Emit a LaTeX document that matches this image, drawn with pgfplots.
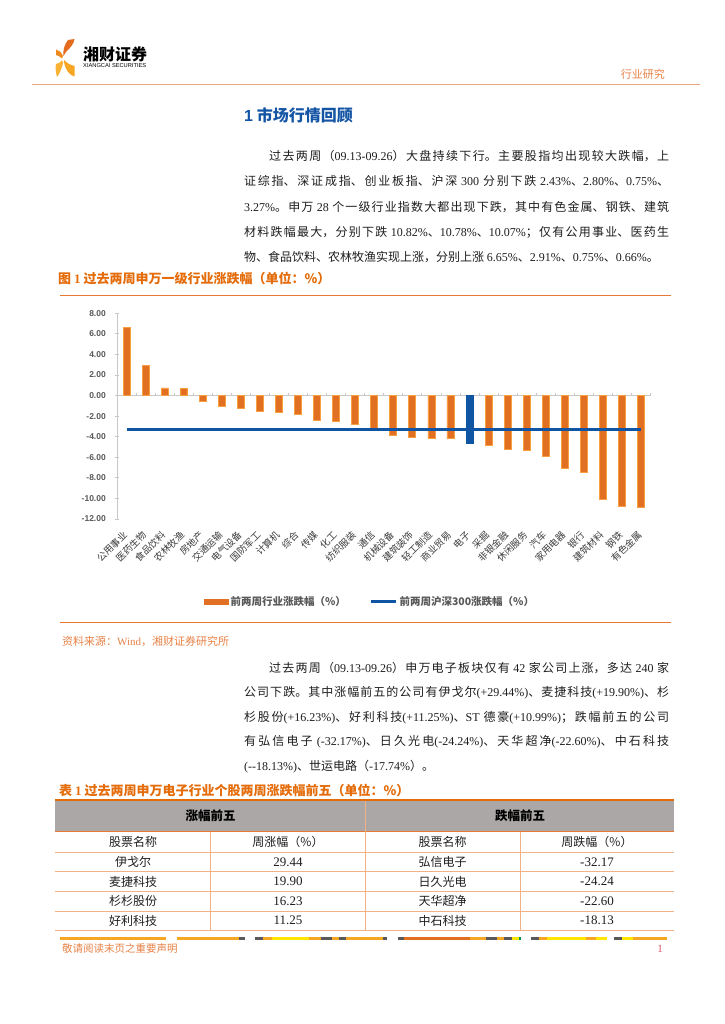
\documentclass[border=0pt]{standalone}
\usepackage{pgfplots}
\pgfplotsset{compat=1.18}
\usepackage{fontspec}
\setmainfont{Noto Sans CJK SC}
\newfontfamily\tnr{Liberation Serif}
\newfontfamily\lsans{Liberation Sans}
\XeTeXlinebreaklocale "zh"
\XeTeXlinebreakskip=0pt plus 2pt
\definecolor{barorange}{RGB}{226,112,34}
\definecolor{baredge}{RGB}{248,160,64}
\definecolor{hsblue}{RGB}{16,84,164}
\definecolor{axisgray}{RGB}{200,200,200}
\definecolor{tickgray}{RGB}{89,89,89}
\definecolor{labelcol}{RGB}{60,60,60}
\definecolor{capor}{RGB}{228,108,10}
\definecolor{lineor}{RGB}{233,120,50}
\definecolor{hdrline}{RGB}{235,165,125}
\definecolor{srcor}{RGB}{232,130,70}
\definecolor{titleblue}{RGB}{20,85,165}
\definecolor{tblgray}{RGB}{170,167,166}
\definecolor{tblline}{RGB}{244,177,131}
\definecolor{bodytext}{RGB}{30,30,30}
\definecolor{logoA}{RGB}{227,108,30}
\definecolor{logoB}{RGB}{240,138,28}
\definecolor{logoC}{RGB}{246,166,35}
\definecolor{logoD}{RGB}{249,178,51}
\definecolor{fog}{RGB}{245,166,35}
\definecolor{fgy}{RGB}{89,89,89}
\definecolor{fyl}{RGB}{255,230,0}
\definecolor{fdo}{RGB}{224,112,32}
\definecolor{fgr}{RGB}{0,150,80}
\begin{document}
\begin{tikzpicture}
\fill[white] (0pt,0pt) rectangle (724pt,1024pt);
\begin{scope}[x=1pt,y=-1pt,shift={(0pt,1024pt)}]
% ---------- logo ----------
\fill[logoA] (68,40) .. controls (71,39.5) .. (74.5,39) .. controls (74,44) and (70,48) .. (66,52) .. controls (64.5,53.5) .. (63.5,56) .. controls (62.8,51) and (64,45) .. (68,40) -- cycle;
\fill[logoB] (56,49.5) .. controls (59,50) and (61.5,52.5) .. (63,56) -- (62,58.5) .. controls (60,56.5) and (58,55.5) .. (56,55) -- cycle;
\fill[logoC] (64,60) .. controls (67,63) and (70,65) .. (74.5,66) -- (74.5,76.5) .. controls (69,75) and (65.5,70) .. (64,62) -- cycle;
\fill[logoD] (62,60.5) -- (63.2,62.5) .. controls (62,68) and (60,73) .. (57,77) .. controls (55.5,72) and (55.5,67) .. (56,64) .. controls (58.5,63.5) and (60.5,62.5) .. (62,60.5) -- cycle;
\node[anchor=west, inner sep=0pt, font=\bfseries\fontsize{16}{16}\selectfont] at (83,54) {湘财证券};
\node[anchor=west, inner sep=0pt, font=\lsans\fontsize{5.7}{6}\selectfont] at (83,66) {XIANGCAI SECURITIES};
\node[anchor=east, inner sep=0pt, text=srcor, font=\fontsize{11}{12}\selectfont] at (665,74.5) {行业研究};
\draw[hdrline, line width=1.5pt] (32,84.5) -- (700,84.5);
% ---------- title ----------
\node[anchor=west, inner sep=0pt, text=titleblue, font=\bfseries\fontsize{16}{17}\selectfont] at (244,115) {{\lsans 1} 市场行情回顾};
% ---------- paragraph 1 ----------
\node[anchor=base west, inner sep=0pt, text width=425pt, align=justify, text=bodytext, font=\fontsize{12}{25.4}\selectfont] at (244,160.3) {\hspace*{25pt}过去两周（{\tnr 09.13-09.26}）大盘持续下行。主要股指均出现较大跌幅，上\linebreak
证综指、深证成指、创业板指、沪深 {\tnr 300} 分别下跌 {\tnr 2.43\%}、{\tnr 2.80\%}、{\tnr 0.75\%}、\linebreak
{\tnr 3.27\%}。申万 {\tnr 28} 个一级行业指数大都出现下跌，其中有色金属、钢铁、建筑\linebreak
材料跌幅最大，分别下跌 {\tnr 10.82\%}、{\tnr 10.78\%}、{\tnr 10.07\%}；仅有公用事业、医药生\linebreak
物、食品饮料、农林牧渔实现上涨，分别上涨 {\tnr 6.65\%}、{\tnr 2.91\%}、{\tnr 0.75\%}、{\tnr 0.66\%}。};
% ---------- figure caption ----------
\node[anchor=west, inner sep=0pt, text=capor, font=\bfseries\fontsize{13}{14}\selectfont] at (58,278.5) {图 {\tnr\bfseries 1} 过去两周申万一级行业涨跌幅（单位：\%）};
\draw[lineor, line width=1.3pt] (60,295.3) -- (671,295.3);
% ---------- source ----------
\draw[lineor, line width=1.3pt] (60,622.7) -- (671,622.7);
\node[anchor=west, inner sep=0pt, text=srcor, font=\fontsize{11}{12}\selectfont] at (62,641) {资料来源：{\tnr Wind}，湘财证券研究所};
% ---------- paragraph 2 ----------
\node[anchor=base west, inner sep=0pt, text width=425pt, align=justify, text=bodytext, font=\fontsize{12}{24.5}\selectfont] at (244,672.5) {\hspace*{25pt}过去两周（{\tnr 09.13-09.26}）申万电子板块仅有 {\tnr 42} 家公司上涨，多达 {\tnr 240} 家\linebreak
公司下跌。其中涨幅前五的公司有伊戈尔{\tnr (+29.44\%)}、麦捷科技{\tnr (+19.90\%)}、杉\linebreak
杉股份{\tnr (+16.23\%)}、好利科技{\tnr (+11.25\%)}、{\tnr ST} 德豪{\tnr (+10.99\%)}；跌幅前五的公司\linebreak
有弘信电子 {\tnr ({-}32.17\%)}、日久光电{\tnr ({-}24.24\%)}、天华超净{\tnr ({-}22.60\%)}、中石科技\linebreak
{\tnr ({-}{-}18.13\%)}、世运电路（{\tnr {-}17.74\%}）。};
% ---------- table caption ----------
\node[anchor=west, inner sep=0pt, text=capor, font=\bfseries\fontsize{13}{14}\selectfont] at (59,790.5) {表 {\tnr\bfseries 1} 过去两周申万电子行业个股两周涨跌幅前五（单位：\%）};
% ---------- table ----------
\fill[tblgray] (55,800) rectangle (674,832);
\draw[capor, line width=2.2pt] (55,799.7) -- (674,799.7);
\draw[lineor, line width=1pt] (55,832) -- (674,832);
\foreach \yy in {852,871.7,891.3,911,930.3} {\draw[tblline, line width=0.9pt] (55,\yy) -- (674,\yy);}
\draw[tblline, line width=0.9pt] (365.4,800.8) -- (365.4,930.3);
\draw[tblline, line width=0.9pt] (210.6,832) -- (210.6,930.3);
\draw[tblline, line width=0.9pt] (520,832) -- (520,930.3);
\node[inner sep=0pt, font=\bfseries\fontsize{12.5}{13}\selectfont] at (210.6,816) {涨幅前五};
\node[inner sep=0pt, font=\bfseries\fontsize{12.5}{13}\selectfont] at (520,816) {跌幅前五};
\begin{scope}[every node/.style={inner sep=0pt, text=bodytext, font=\fontsize{12}{13}\selectfont}]
\node at (133,842) {股票名称};
\node at (288,842) {周涨幅（\%）};
\node at (442.7,842) {股票名称};
\node at (597,842) {周跌幅（\%）};
\node at (133,861.8) {伊戈尔};
\node at (133,881.5) {麦捷科技};
\node at (133,901.1) {杉杉股份};
\node at (133,920.6) {好利科技};
\node at (442.7,861.8) {弘信电子};
\node at (442.7,881.5) {日久光电};
\node at (442.7,901.1) {天华超净};
\node at (442.7,920.6) {中石科技};
\node[font=\tnr\fontsize{13}{14}\selectfont] at (288,861.8) {29.44};
\node[font=\tnr\fontsize{13}{14}\selectfont] at (288,881.5) {19.90};
\node[font=\tnr\fontsize{13}{14}\selectfont] at (288,901.1) {16.23};
\node[font=\tnr\fontsize{13}{14}\selectfont] at (288,920.6) {11.25};
\node[font=\tnr\fontsize{13}{14}\selectfont] at (597,861.8) {-32.17};
\node[font=\tnr\fontsize{13}{14}\selectfont] at (597,881.5) {-24.24};
\node[font=\tnr\fontsize{13}{14}\selectfont] at (597,901.1) {-22.60};
\node[font=\tnr\fontsize{13}{14}\selectfont] at (597,920.6) {-18.13};
\end{scope}
% ---------- footer ----------
\begin{scope}[line width=2.5pt]
\draw[fog] (59.9,938.5) -- (165.9,938.5);
\draw[fog] (176.6,938.5) -- (239.4,938.5); \draw[fgy] (239.4,938.5) -- (244.5,938.5);
\draw[fgy] (255.2,938.5) -- (262.9,938.5); \draw[fog] (262.9,938.5) -- (271.5,938.5);
\draw[fyl] (271.5,938.5) -- (308.6,938.5); \draw[fog] (308.6,938.5) -- (320.6,938.5);
\draw[fgy] (320.6,938.5) -- (331.7,938.5); \draw[fog] (331.7,938.5) -- (338.5,938.5);
\draw[fgy] (338.5,938.5) -- (346.2,938.5); \draw[fog] (346.2,938.5) -- (382.6,938.5);
\draw[fgy] (382.6,938.5) -- (386.8,938.5);
\draw[fgy] (397.5,938.5) -- (404.4,938.5); \draw[fdo] (404.4,938.5) -- (470.2,938.5);
\draw[fog] (470.2,938.5) -- (486.4,938.5); \draw[fgy] (486.4,938.5) -- (496.7,938.5);
\draw[fog] (496.7,938.5) -- (503.5,938.5); \draw[fgy] (503.5,938.5) -- (512,938.5);
\draw[fyl] (512,938.5) -- (518.5,938.5); \draw[fgr] (518.5,938.5) -- (520.5,938.5);
\draw[fgy] (530.9,938.5) -- (538.5,938.5); \draw[fog] (538.5,938.5) -- (547,938.5);
\draw[fyl] (547,938.5) -- (585.6,938.5); \draw[fog] (585.6,938.5) -- (596.2,938.5);
\draw[fyl] (596.2,938.5) -- (606.9,938.5);
\draw[fgy] (614.2,938.5) -- (621.9,938.5); \draw[fyl] (621.9,938.5) -- (632.6,938.5);
\draw[fog] (632.6,938.5) -- (666.8,938.5);
\end{scope}
\node[anchor=west, inner sep=0pt, text=srcor, font=\fontsize{10.5}{12}\selectfont] at (62,948.5) {敬请阅读末页之重要声明};
\node[inner sep=0pt, text={rgb,255:red,220;green,80;blue,100}, font=\tnr\fontsize{11}{12}\selectfont] at (660,948.5) {1};
\end{scope}
% ---------- chart ----------
\begin{axis}[
  at={(117pt,505pt)}, anchor=south west,
  scale only axis, width=533.5pt, height=205.7pt,
  xmin=0.5, xmax=28.5, ymin=-12, ymax=8,
  axis x line=bottom, axis y line=left,
  x axis line style={draw=none},
  y axis line style={draw=axisgray, line width=1pt, -},
  xtick={1,...,28},
  xticklabels={公用事业,医药生物,食品饮料,农林牧渔,房地产,交通运输,电气设备,国防军工,计算机,综合,传媒,化工,纺织服装,通信,机械设备,建筑装饰,轻工制造,商业贸易,电子,采掘,非银金融,休闲服务,汽车,家用电器,银行,建筑材料,钢铁,有色金属},
  xtick style={draw=none},
  xticklabel style={xshift=-4pt, yshift=-9pt, rotate=45, anchor=north east, inner sep=0pt, text height=7.6pt, text depth=0.6pt, text=labelcol, font=\fontsize{9.5}{10}\selectfont},
  ytick={-12,-10,...,8},
  yticklabel={\pgfmathprintnumber[fixed,fixed zerofill,precision=2]{\tick}},
  /pgf/number format/assume math mode=true,
  yticklabel style={anchor=east, inner sep=0pt, xshift=-9pt, text=tickgray, font=\lsans\bfseries\fontsize{8.5}{10}\selectfont},
  ytick style={draw=axisgray, line width=0.8pt},
  ytick align=center, major tick length=4pt,
  clip=false,
  legend columns=2,
  legend cell align=left,
  legend style={at={(axis description cs:0.1625,-0.402)}, anchor=west, draw=none, fill=none, inner sep=0pt,
    font=\bfseries\fontsize{10.5}{12}\selectfont, text=tickgray,
    /tikz/every even column/.append style={column sep=22pt}},
]
\draw[axisgray, line width=1pt] (axis cs:0.5,0) -- (axis cs:28.5,0);
\pgfplotsinvokeforeach{0.5,1.5,...,28.5}{\draw[axisgray, line width=0.8pt] (axis cs:#1,0) -- ++(0pt,2.7pt);}
\addplot[ybar, bar width=7pt, bar shift=0pt, fill=barorange, draw=baredge, line width=0.7pt,
  legend image code/.code={\fill[barorange] (0pt,-2.5pt) rectangle (24pt,2.5pt);}]
  coordinates {(1,6.65) (2,2.91) (3,0.75) (4,0.66) (5,-0.55) (6,-1.00) (7,-1.27) (8,-1.52) (9,-1.59) (10,-1.78) (11,-2.40) (12,-2.50) (13,-2.79) (14,-3.25) (15,-3.90) (16,-4.10) (17,-4.17) (18,-4.20) (20,-4.88) (21,-5.20) (22,-5.33) (23,-5.95) (24,-7.10) (25,-7.46) (26,-10.07) (27,-10.78) (28,-10.82)};
\addlegendentry{前两周行业涨跌幅（\%）}
\addplot[ybar, bar width=7pt, bar shift=0pt, fill=hsblue, draw=hsblue, line width=0.5pt, forget plot]
  coordinates {(19,-4.65)};
\addplot[hsblue, line width=2.6pt, mark=none,
  legend image code/.code={\draw[hsblue, line width=2.6pt] (0pt,0pt) -- (25pt,0pt);}]
  coordinates {(1,-3.27) (28,-3.27)};
\addlegendentry{前两周沪深300涨跌幅（\%）}
\end{axis}
\end{tikzpicture}
\end{document}
